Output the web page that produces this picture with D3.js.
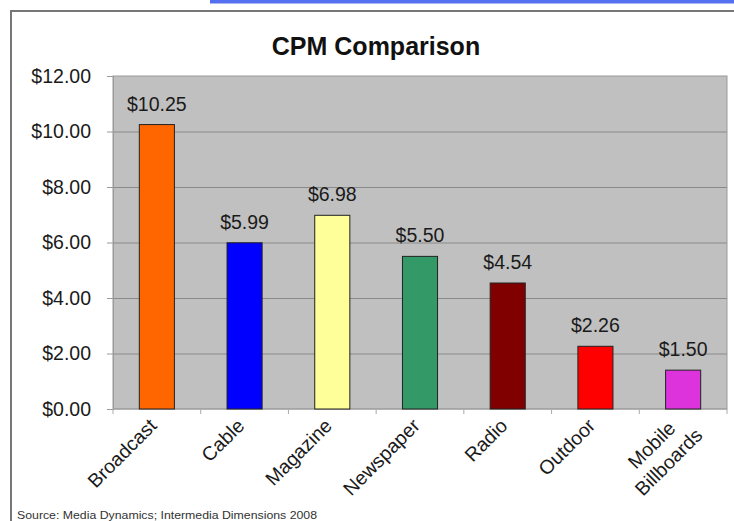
<!DOCTYPE html>
<html>
<head>
<meta charset="utf-8">
<script src="https://cdn.jsdelivr.net/npm/d3@7/dist/d3.min.js"></script>
<style>
  html, body { margin: 0; padding: 0; background: #fff; }
  svg { display: block; font-family: "Liberation Sans", Arial, sans-serif; }
</style>
</head>
<body>
<svg id="chart" width="734" height="521"></svg>
<script>
// ---- data ----
const categories = ["Broadcast", "Cable", "Magazine", "Newspaper", "Radio", "Outdoor", "Mobile\nBillboards"];
const cpmValues = [10.25, 5.99, 6.98, 5.50, 4.54, 2.26, 1.40];
const valueLabels = ["$10.25", "$5.99", "$6.98", "$5.50", "$4.54", "$2.26", "$1.50"];
const barColors = ["#ff6600", "#0000ff", "#ffff99", "#339966", "#800000", "#ff0000", "#dd33dd"];
const yTicks = [0, 2, 4, 6, 8, 10, 12];
const titleText = "CPM Comparison";
const sourceText = "Source:  Media Dynamics; Intermedia Dimensions 2008";

// ---- layout ----
const svg = d3.select("#chart");
const plot = { left: 113, right: 727, top: 76, bottom: 409 };

// decorations: blue strip and outer frame
svg.append("rect").attr("x", 210).attr("y", 0).attr("width", 524).attr("height", 3.5).attr("fill", "#5470ee");
svg.append("path")
  .attr("d", "M11,530 L11,11 L740,11")
  .attr("fill", "none").attr("stroke", "#777").attr("stroke-width", 2);

const x = d3.scaleBand().domain(categories).range([plot.left, plot.right]).paddingInner(0.6).paddingOuter(0.3);
const y = d3.scaleLinear().domain([0, 12]).range([plot.bottom, plot.top]);

// plot background
svg.append("rect")
  .attr("x", plot.left).attr("y", plot.top)
  .attr("width", plot.right - plot.left).attr("height", plot.bottom - plot.top)
  .attr("fill", "#c0c0c0").attr("stroke", "#9a9a9a").attr("stroke-width", 1);

// gridlines
const grid = svg.append("g").attr("transform", `translate(${plot.left},0)`)
  .call(d3.axisLeft(y).tickValues(yTicks.filter(v => v > 0 && v < 12)).tickSize(-(plot.right - plot.left)).tickFormat(""));
grid.select(".domain").remove();
grid.selectAll("line").attr("stroke", "#8a8a8a").attr("stroke-width", 1);

// y axis
const yAxis = svg.append("g").attr("transform", `translate(${plot.left},0)`)
  .call(d3.axisLeft(y).tickValues(yTicks).tickSize(6).tickPadding(16).tickFormat(d3.format("$.2f")));
yAxis.select(".domain").attr("stroke", "#9a9a9a");
yAxis.selectAll("line").attr("stroke", "#9a9a9a");
yAxis.selectAll("text").attr("font-size", "19.5px").attr("fill", "#1a1a1a").attr("font-family", "Liberation Sans, Arial, sans-serif");

// x axis baseline and ticks at band edges
svg.append("line").attr("x1", plot.left).attr("x2", plot.right).attr("y1", plot.bottom).attr("y2", plot.bottom)
  .attr("stroke", "#9a9a9a");
svg.append("g").selectAll("line").data(d3.range(categories.length + 1)).join("line")
  .attr("x1", i => plot.left + i * x.step()).attr("x2", i => plot.left + i * x.step())
  .attr("y1", plot.bottom).attr("y2", plot.bottom + 5)
  .attr("stroke", "#aaa");

// bars
svg.append("g").selectAll("rect").data(categories).join("rect")
  .attr("x", d => x(d))
  .attr("y", (d, i) => y(cpmValues[i]))
  .attr("width", x.bandwidth())
  .attr("height", (d, i) => y(0) - y(cpmValues[i]))
  .attr("fill", (d, i) => barColors[i])
  .attr("stroke", "#222").attr("stroke-width", 1);

// value labels
svg.append("g").selectAll("text").data(categories).join("text")
  .attr("x", d => x(d) + x.bandwidth() / 2)
  .attr("y", (d, i) => y(cpmValues[i]) - 14)
  .attr("text-anchor", "middle")
  .attr("font-size", "19.5px").attr("fill", "#1a1a1a")
  .text((d, i) => valueLabels[i]);

// category labels (rotated)
const lh = 24;
categories.forEach(c => {
  const lines = c.split("\n");
  const n = lines.length;
  const cx = x(c) + x.bandwidth() / 2;
  const g = svg.append("g").attr("transform", `translate(${cx + 1 + (n - 1) * 11},${427 + (n - 1) * 1}) rotate(-45)`);
  const texts = lines.map((t, i) => g.append("text")
    .attr("text-anchor", "end")
    .attr("font-size", "19.5px").attr("fill", "#1a1a1a")
    .attr("y", (i - (n - 1) / 2) * lh)
    .text(t));
  const widths = texts.map(t => t.node().getComputedTextLength());
  const wMax = d3.max(widths);
  texts.forEach((t, i) => t.attr("x", -(wMax - widths[i]) / 2));
});

// title
svg.append("text").attr("x", 376).attr("y", 55).attr("text-anchor", "middle")
  .attr("font-size", "25px").attr("font-weight", "bold").attr("fill", "#111")
  .text(titleText);

// source
svg.append("text").attr("x", 17).attr("y", 519)
  .attr("font-size", "11.5px").attr("fill", "#333")
  .attr("textLength", 300).attr("lengthAdjust", "spacingAndGlyphs")
  .text(sourceText);
</script>
</body>
</html>
